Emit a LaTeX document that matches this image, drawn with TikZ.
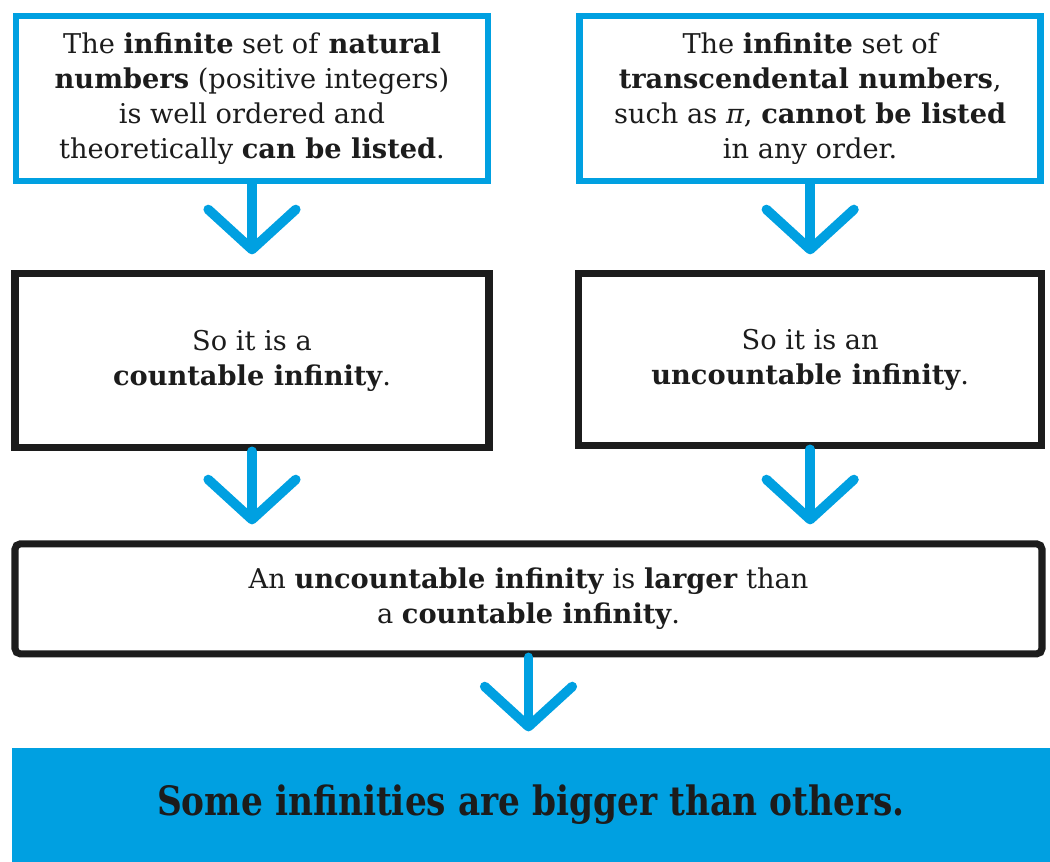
\documentclass[tikz,border=0pt]{standalone}
\usepackage{fontspec}
\setmainfont{DejaVu Serif}
\newfontfamily\bannerfont[FakeStretch=0.85]{DejaVu Serif}
\usepackage{xcolor}
\usepackage{tikz}
\usetikzlibrary{arrows.meta, positioning}

\definecolor{infblue}{RGB}{0,160,225}
\definecolor{inkblack}{RGB}{28,28,28}

\begin{document}
\begin{tikzpicture}[
    bluebox/.style={rectangle, draw=infblue, line width=3.8pt, minimum width=9.44cm, minimum height=3.3cm, align=center, text=inkblack, font=\fontsize{15.5}{20}\selectfont},
    blackbox/.style={rectangle, draw=inkblack, line width=4pt, minimum width=9.48cm, minimum height=3.48cm, align=center, text=inkblack, font=\fontsize{15.5}{20}\selectfont},
    widebox/.style={blackbox, rounded corners=3pt, minimum width=20.54cm, minimum height=2.2cm},
    banner/.style={rectangle, fill=infblue, minimum width=20.76cm, minimum height=2.28cm, inner sep=0pt, text=inkblack, font=\bannerfont\bfseries\fontsize{23}{27}\selectfont},
    arrow/.style={-{Straight Barb[length=0.8cm, width=1.75cm, round]}, line width=5.5pt, draw=infblue, line cap=round, shorten >=0.32cm}
]
\useasboundingbox (0,0) rectangle (21,-17.24);

\node[bluebox] (natural) at (5.04,-1.97) {The \textbf{infinite} set of \textbf{natural}\\\textbf{numbers} (positive integers)\\is well ordered and\\theoretically \textbf{can be listed}.};
\node[bluebox, minimum width=9.22cm, right=1.7cm of natural] (transc) {The \textbf{infinite} set of\\\textbf{transcendental numbers},\\such as \textit{π}, \textbf{cannot be listed}\\in any order.};

% Second row
\node[blackbox, below=1.72cm of natural] (countable) {So it is a\\\textbf{countable infinity}.};
\node[blackbox, minimum width=9.26cm, minimum height=3.44cm, below=1.72cm of transc] (uncountable) {So it is an\\\textbf{uncountable infinity}.};

% Conclusion
\node[widebox, below right=1.78cm and 0cm of countable.south west] (larger) {An \textbf{uncountable infinity} is \textbf{larger} than\\a \textbf{countable infinity}.};
\node[banner, below right=1.8cm and 0cm of larger.south west] (others) {Some infinities are bigger than others.};

\draw[arrow] (natural) -- (countable);
\draw[arrow] (transc) -- (uncountable);
\draw[arrow] (countable.south) -- (countable.south |- larger.north);
\draw[arrow] (uncountable.south) -- (uncountable.south |- larger.north);
\draw[arrow] (larger.south) -- (larger.south |- others.north);
\end{tikzpicture}
\end{document}
